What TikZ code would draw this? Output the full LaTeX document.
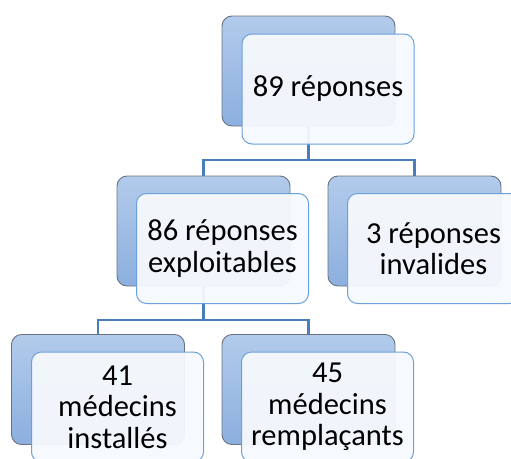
\documentclass[tikz,border=0pt]{standalone}
\usepackage{fontspec}
\setmainfont{Carlito}
\definecolor{backtop}{RGB}{178,203,235}
\definecolor{backbot}{RGB}{140,175,222}
\definecolor{backedge}{RGB}{105,115,128}
\definecolor{frontfill}{RGB}{246,249,253}
\definecolor{frontedge}{RGB}{108,160,220}
\definecolor{linkcol}{RGB}{74,126,187}
\begin{document}
\begin{tikzpicture}[x=1pt,y=1pt,
  backbox/.style={draw=backedge, line width=0.9pt, rounded corners=10pt,
    top color=backtop, bottom color=backbot,
    minimum width=173pt, minimum height=110pt, inner sep=0pt},
  frontbox/.style={draw=frontedge, line width=1pt, rounded corners=10pt,
    fill=frontfill, fill opacity=0.95, text opacity=1,
    minimum width=172pt, minimum height=110pt, inner sep=0pt,
    align=center, font=\fontsize{30.5}{31.5}\selectfont},
  link/.style={draw=linkcol, line width=2.6pt}]
\useasboundingbox (0,0) rectangle (511,-458);
% back boxes positions
\coordinate (topBc) at (308.5,-71);
\coordinate (mlBc) at (203.5,-231);
\coordinate (mrBc) at (414.5,-231);
\coordinate (blBc) at (98,-389.5);
\coordinate (brBc) at (308.5,-389.5);
% junctions
\coordinate (j1) at (308.5,-160);
\coordinate (j2) at (203.5,-320);
\node[backbox, at=(topBc)] (topB) {};
\node[backbox, at=(mlBc)] (mlB) {};
\node[backbox, at=(mrBc)] (mrB) {};
\node[backbox, at=(blBc)] (blB) {};
\node[backbox, at=(brBc)] (brB) {};
\path[link] (topB.south) -- (j1) -| (mlB.north);
\path[link] (j1) -| (mrB.north);
\path[link] (mlB.south) -- (j2) -| (blB.north);
\path[link] (j2) -| (brB.north);
% front boxes
\node[frontbox] (topF) at (328,-89) {89 réponses};
\node[frontbox] (mlF) at (222.5,-248.5) {86 réponses\\exploitables};
\node[frontbox] (mrF) at (433.5,-248.5) {3 réponses\\invalides};
\node[frontbox] (blF) at (117.5,-407) {41\\médecins\\installés};
\node[frontbox] (brF) at (327.5,-407) {45\\médecins\\remplaçants};
\end{tikzpicture}
\end{document}
